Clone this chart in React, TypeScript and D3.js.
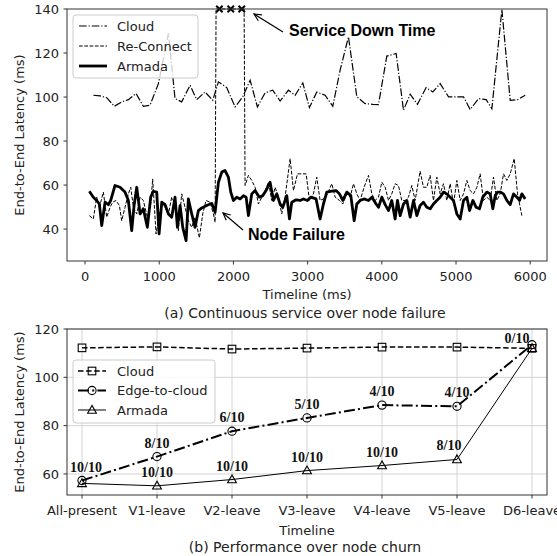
import React from 'react';
import * as d3 from 'd3';

// ---------- (a) data ----------
const cloudPts: [number, number][] = [
  [112,100.8],[202,100.5],[292,99.7],[395,95.8],[494,97.8],[584,98.8],[688,101.6],[786,95.8],[876,96.3],[989,106.1],
  [1124,128.9],[1213,99.3],[1303,97.8],[1416,105.4],[1505,98.8],[1618,102.3],[1721,98.5],[1798,106.9],[1910,104.3],[2022,95.5],
  [2126,100.1],[2225,107.6],[2323,95.5],[2427,101.9],[2530,103.1],[2629,98.2],[2741,103.1],[2831,100.8],[2935,106.4],[3024,95.2],
  [3123,102.3],[3236,100.8],[3339,95.8],[3438,112.2],[3550,127.4],[3663,100.1],[3775,97.0],[3878,96.7],[3955,96.6],[4067,118.6],
  [4193,119.8],[4292,94.0],[4382,101.3],[4480,96.7],[4597,104.3],[4687,102.3],[4786,106.1],[4899,100.1],[5002,100.1],[5101,100.1],
  [5191,94.3],[5303,99.3],[5406,98.8],[5483,94.7],[5618,139.8],[5730,98.5],[5829,98.8],[5932,100.8],
];

const reconnectPts: [number, number][] = [
  [58,46.1],[112,44.6],[157,54.5],[193,49.9],[247,56.8],[292,45.4],[337,49.9],[373,52.2],[418,53.0],[463,50.7],
  [494,43.8],[539,49.9],[584,56.0],[616,59.0],[652,49.9],[697,46.9],[742,54.5],[786,53.0],[840,45.4],[885,51.4],
  [912,62.8],[957,37.8],[1002,46.9],[1034,51.4],[1079,49.9],[1124,46.9],[1168,54.5],[1213,51.4],[1258,39.3],[1303,56.0],
  [1348,49.9],[1393,43.8],[1438,40.8],[1483,45.4],[1541,36.0],[1586,46.9],[1631,53.0],[1685,52.2],[1730,46.9],[1753,43.1],
  [1766,140],[2144,140],
  [2157,59.8],[2202,64.4],[2247,62.1],[2292,59.0],[2337,51.4],[2382,54.5],[2427,57.5],[2472,61.3],[2517,53.0],[2562,59.0],
  [2607,54.5],[2651,46.9],[2696,54.5],[2764,72.0],[2809,57.5],[2863,65.1],[2921,65.1],[2980,65.1],[3024,53.0],[3078,56.0],
  [3123,63.6],[3168,53.0],[3213,53.7],[3267,56.0],[3326,60.6],[3371,54.5],[3429,53.0],[3474,51.4],[3528,56.0],[3573,54.5],
  [3618,60.6],[3663,56.0],[3708,53.0],[3761,59.0],[3820,64.4],[3865,56.0],[3910,53.0],[3955,54.5],[4000,61.3],[4045,59.0],
  [4090,53.0],[4134,56.0],[4179,60.6],[4224,59.8],[4269,53.0],[4314,53.0],[4359,54.5],[4404,59.8],[4449,53.0],[4516,66.3],
  [4561,59.0],[4606,59.0],[4651,64.4],[4696,53.0],[4741,63.6],[4786,56.0],[4831,60.6],[4876,53.0],[4921,60.6],[4966,51.4],
  [5011,62.1],[5056,53.0],[5101,56.0],[5146,62.1],[5191,57.5],[5236,56.0],[5281,59.0],[5325,65.1],[5370,53.0],[5415,54.5],
  [5460,53.0],[5505,63.6],[5550,53.0],[5595,56.0],[5640,65.1],[5685,62.1],[5730,65.1],[5784,72.0],[5829,56.0],[5887,46.1],
];

const downTimeX = [1811, 1964, 2112];
const downTimeY = 140;

const armadaPts: [number, number][] = [
  [58,57.2],[112,54.5],[157,53.0],[193,51.4],[225,41.6],[270,52.2],[315,51.1],[346,53.0],[404,59.8],[472,59.0],
  [539,56.8],[584,53.0],[629,39.3],[661,50.7],[697,59.0],[742,46.9],[786,49.2],[840,40.8],[885,54.5],[921,57.2],
  [966,56.8],[998,37.8],[1034,52.2],[1079,51.1],[1124,46.9],[1168,45.4],[1213,54.5],[1245,40.8],[1281,50.7],[1317,40.8],
  [1362,34.7],[1393,53.7],[1438,46.9],[1483,40.8],[1528,48.4],[1573,49.6],[1640,50.7],[1708,51.7],[1753,47.6],[1798,61.3],
  [1843,65.9],[1887,66.6],[1932,63.6],[1964,56.8],[2000,53.0],[2045,54.5],[2090,53.7],[2135,55.2],[2171,54.5],[2202,46.1],
  [2247,56.0],[2292,57.5],[2350,54.5],[2395,55.2],[2440,57.5],[2494,61.3],[2539,53.0],[2584,56.0],[2629,51.4],[2665,49.9],
  [2719,55.2],[2755,44.6],[2786,52.2],[2845,53.3],[2899,53.0],[2944,53.7],[2997,53.0],[3042,54.5],[3114,53.7],[3168,44.6],
  [3213,51.4],[3258,56.8],[3326,57.2],[3384,57.5],[3429,56.0],[3474,53.0],[3528,56.8],[3582,55.2],[3627,43.8],[3663,51.4],
  [3708,53.0],[3761,53.7],[3820,53.0],[3865,54.5],[3923,51.4],[3955,49.9],[4000,54.5],[4045,51.1],[4090,48.4],[4134,53.0],
  [4179,44.6],[4211,53.0],[4247,46.1],[4292,51.4],[4337,53.0],[4382,45.4],[4427,53.0],[4472,46.1],[4516,50.7],[4561,52.2],
  [4606,49.9],[4651,49.2],[4696,51.4],[4741,53.0],[4786,54.5],[4831,56.8],[4876,56.0],[4921,54.5],[4966,53.0],[5011,46.9],
  [5056,44.6],[5101,53.0],[5146,54.5],[5182,48.4],[5227,53.0],[5271,49.9],[5316,49.2],[5361,54.5],[5415,56.8],[5460,56.0],
  [5496,49.2],[5528,55.2],[5559,56.8],[5595,56.8],[5640,56.0],[5685,53.0],[5730,51.1],[5775,56.0],[5820,54.5],[5856,53.0],
  [5887,56.0],[5932,53.7],
];

const xTicksA = [0, 1000, 2000, 3000, 4000, 5000, 6000];
const yTicksA = [40, 60, 80, 100, 120, 140];

// ---------- (b) data ----------
const categories = ['All-present', 'V1-leave', 'V2-leave', 'V3-leave', 'V4-leave', 'V5-leave', 'D6-leave'];
const cloudB = [112.2, 112.6, 111.7, 112.1, 112.5, 112.5, 112.0];
const edgeB = [57.3, 67.2, 77.7, 83.2, 88.5, 88.0, 113.5];
const armadaB = [56.1, 55.1, 57.7, 61.4, 63.5, 66.0, 112.0];
const edgeLabels = ['10/10', '8/10', '6/10', '5/10', '4/10', '4/10', '0/10'];
const armadaLabels = ['', '10/10', '10/10', '10/10', '10/10', '8/10', ''];
const yTicksB = [60, 80, 100, 120];

const SANS = 'DejaVu Sans, sans-serif';
const BOLD_SANS = 'Liberation Sans, Arial, sans-serif';
const SERIF = 'Liberation Serif, Times New Roman, serif';
const SPINE = '#333';
const TXT = '#222';

function Arrow({ x1, y1, x2, y2 }: { x1: number; y1: number; x2: number; y2: number }) {
  const a = Math.atan2(y2 - y1, x2 - x1);
  const L = 8, w = 0.45;
  const p1 = [x2 - L * Math.cos(a - w), y2 - L * Math.sin(a - w)];
  const p2 = [x2 - L * Math.cos(a + w), y2 - L * Math.sin(a + w)];
  return (
    <g stroke="#000" strokeWidth={1.2} fill="none">
      <line x1={x1} y1={y1} x2={x2} y2={y2} />
      <polyline points={`${p1[0]},${p1[1]} ${x2},${y2} ${p2[0]},${p2[1]}`} />
    </g>
  );
}

function Marker({ kind, x, y }: { kind: string; x: number; y: number }) {
  const s = 3.8;
  if (kind === 'square')
    return <rect x={x - s} y={y - s} width={2 * s} height={2 * s} fill="none" stroke="#000" strokeWidth={1.1} />;
  if (kind === 'circle') return <circle cx={x} cy={y} r={s + 0.3} fill="none" stroke="#000" strokeWidth={1.1} />;
  return (
    <polygon
      points={`${x},${y - s - 0.8} ${x - s - 0.6},${y + s - 0.6} ${x + s + 0.6},${y + s - 0.6}`}
      fill="none"
      stroke="#000"
      strokeWidth={1.1}
    />
  );
}

export default function App() {
  // ----- panel (a) -----
  const L = 67, R = 547;
  const xa = d3.scaleLinear().domain([-243, 6226]).range([L, R]);
  const ya = d3.scaleLinear().domain([25.5, 140]).range([261, 9]);
  const lineA = d3.line<[number, number]>().x((d) => xa(d[0])).y((d) => ya(d[1]));

  // ----- panel (b) -----
  const xb = d3.scaleLinear().domain([-0.2, 6.2]).range([L, R]);
  const yb = d3.scaleLinear().domain([51.3, 120]).range([495, 329]);
  const lineB = d3.line<number>().x((_, i) => xb(i)).y((d) => yb(d));

  const topA = ya.range()[1], botA = ya.range()[0];
  const topB = yb.range()[1], botB = yb.range()[0];

  return (
    <svg width={557} height={556} style={{ position: 'absolute', left: 0, top: 0, background: '#fff' }}>
      <defs>
        <clipPath id="clipA">
          <rect x={L} y={topA - 2} width={R - L} height={botA - topA + 2} />
        </clipPath>
        <clipPath id="clipB">
          <rect x={L} y={topB - 6} width={R - L + 6} height={botB - topB + 6} />
        </clipPath>
      </defs>

      {/* ================= (a) ================= */}
      <g clipPath="url(#clipA)">
        <path d={lineA(cloudPts) || ''} fill="none" stroke="#000" strokeWidth={1.2} strokeDasharray="7.7,1.9,1.2,1.9" />
        <path d={lineA(reconnectPts) || ''} fill="none" stroke="#000" strokeWidth={1} strokeDasharray="3.7,1.6" />
        <path d={lineA(armadaPts) || ''} fill="none" stroke="#000" strokeWidth={2.8} strokeLinejoin="round" />
      </g>
      {downTimeX.map((t, i) => {
        const cx = xa(t), cy = ya(downTimeY), s = 3.2;
        return (
          <g key={i} stroke="#000" strokeWidth={2}>
            <line x1={cx - s} y1={cy - s} x2={cx + s} y2={cy + s} />
            <line x1={cx - s} y1={cy + s} x2={cx + s} y2={cy - s} />
          </g>
        );
      })}
      <rect x={L} y={topA} width={R - L} height={botA - topA} fill="none" stroke={SPINE} strokeWidth={1} />
      {yTicksA.map((v) => (
        <g key={v}>
          <line x1={L - 3.5} x2={L} y1={ya(v)} y2={ya(v)} stroke={SPINE} />
          <text x={L - 8} y={ya(v) + 4.7} textAnchor="end" fontSize={13} fontFamily={SANS} fill={TXT}>
            {v}
          </text>
        </g>
      ))}
      {xTicksA.map((v) => (
        <g key={v}>
          <line x1={xa(v)} x2={xa(v)} y1={botA} y2={botA + 3.5} stroke={SPINE} />
          <text x={xa(v)} y={botA + 20} textAnchor="middle" fontSize={13} fontFamily={SANS} fill={TXT}>
            {v}
          </text>
        </g>
      ))}
      <text x={(L + R) / 2} y={299} textAnchor="middle" fontSize={13} fontFamily={SANS} fill={TXT}>
        Timeline (ms)
      </text>
      <text
        transform={`translate(24,${(topA + botA) / 2}) rotate(-90)`}
        textAnchor="middle"
        fontSize={13}
        fontFamily={SANS}
        fill={TXT}
      >
        End-to-End Latency (ms)
      </text>
      <text x={305} y={318} textAnchor="middle" fontSize={14} fontFamily={SANS} fill={TXT}>
        (a) Continuous service over node failure
      </text>

      {/* annotations (a) */}
      <Arrow x1={283} y1={32} x2={254} y2={14} />
      <text x={289} y={36} fontSize={16} fontWeight="bold" fontFamily={BOLD_SANS} fill="#000">
        Service Down Time
      </text>
      <Arrow x1={243} y1={230} x2={223} y2={213} />
      <text x={248} y={240} fontSize={16} fontWeight="bold" fontFamily={BOLD_SANS} fill="#000">
        Node Failure
      </text>

      {/* legend (a) */}
      <rect x={73} y={15} width={125} height={63} rx={3} fill="#fff" fillOpacity={0.8} stroke="#ccc" />
      {[
        { name: 'Cloud', dash: '7.7,1.9,1.2,1.9', w: 1.2 },
        { name: 'Re-Connect', dash: '3.7,1.6', w: 1 },
        { name: 'Armada', dash: undefined, w: 2.8 },
      ].map((e, i) => (
        <g key={e.name}>
          <line x1={79} x2={107} y1={26 + i * 20} y2={26 + i * 20} stroke="#000" strokeWidth={e.w} strokeDasharray={e.dash} />
          <text x={117} y={30.5 + i * 20} fontSize={13} fontFamily={SANS} fill={TXT}>
            {e.name}
          </text>
        </g>
      ))}

      {/* ================= (b) ================= */}
      {yTicksB.map((v) => (
        <line key={v} x1={L} x2={R} y1={yb(v)} y2={yb(v)} stroke="#cfcfcf" strokeWidth={0.9} />
      ))}
      {categories.map((c, i) => (
        <line key={c} x1={xb(i)} x2={xb(i)} y1={topB} y2={botB} stroke="#cfcfcf" strokeWidth={0.9} />
      ))}
      <g clipPath="url(#clipB)">
        <path d={lineB(cloudB) || ''} fill="none" stroke="#000" strokeWidth={1.5} strokeDasharray="5.5,2.6" />
        <path d={lineB(edgeB) || ''} fill="none" stroke="#000" strokeWidth={2} strokeDasharray="11,3.2,2,3.2" />
        <path d={lineB(armadaB) || ''} fill="none" stroke="#000" strokeWidth={1} />
        {cloudB.map((v, i) => (
          <Marker key={'c' + i} kind="square" x={xb(i)} y={yb(v)} />
        ))}
        {edgeB.map((v, i) => (
          <Marker key={'e' + i} kind="circle" x={xb(i)} y={yb(v)} />
        ))}
        {armadaB.map((v, i) => (
          <Marker key={'a' + i} kind="triangle" x={xb(i)} y={yb(v)} />
        ))}
      </g>
      {edgeLabels.map((t, i) => {
        const dx = i === 0 ? 4 : i === 6 ? -15 : 0;
        const dy = i === 6 ? -2 : -9;
        return (
          <text key={'el' + i} x={xb(i) + dx} y={yb(edgeB[i]) + dy} textAnchor="middle" fontSize={14} fontWeight="bold" fontFamily={SERIF} fill="#111">
            {t}
          </text>
        );
      })}
      {armadaLabels.map((t, i) =>
        t ? (
          <text key={'al' + i} x={xb(i) + (i === 5 ? -8 : 0)} y={yb(armadaB[i]) - 9} textAnchor="middle" fontSize={14} fontWeight="bold" fontFamily={SERIF} fill="#111">
            {t}
          </text>
        ) : null
      )}
      <rect x={L} y={topB} width={R - L} height={botB - topB} fill="none" stroke={SPINE} strokeWidth={1} />
      {yTicksB.map((v) => (
        <g key={v}>
          <line x1={L - 3.5} x2={L} y1={yb(v)} y2={yb(v)} stroke={SPINE} />
          <text x={L - 8} y={yb(v) + 4.7} textAnchor="end" fontSize={13} fontFamily={SANS} fill={TXT}>
            {v}
          </text>
        </g>
      ))}
      {categories.map((c, i) => (
        <g key={c}>
          <line x1={xb(i)} x2={xb(i)} y1={botB} y2={botB + 3.5} stroke={SPINE} />
          <text x={xb(i)} y={botB + 20} textAnchor="middle" fontSize={13} fontFamily={SANS} fill={TXT}>
            {c}
          </text>
        </g>
      ))}
      <text x={(L + R) / 2} y={535} textAnchor="middle" fontSize={13} fontFamily={SANS} fill={TXT}>
        Timeline
      </text>
      <text
        transform={`translate(24,${(topB + botB) / 2}) rotate(-90)`}
        textAnchor="middle"
        fontSize={13}
        fontFamily={SANS}
        fill={TXT}
      >
        End-to-End Latency (ms)
      </text>
      <text x={305} y={552} textAnchor="middle" fontSize={14} fontFamily={SANS} fill={TXT}>
        (b) Performance over node churn
      </text>

      {/* legend (b) */}
      <rect x={73} y={360} width={142} height={63} rx={3} fill="#fff" fillOpacity={0.8} stroke="#ccc" />
      {[
        { name: 'Cloud', dash: '5.5,2.6', w: 1.5, m: 'square' },
        { name: 'Edge-to-cloud', dash: '11,3.2,2,3.2', w: 2, m: 'circle' },
        { name: 'Armada', dash: undefined, w: 1, m: 'triangle' },
      ].map((e, i) => {
        const y = 371 + i * 19.5;
        return (
          <g key={e.name}>
            <line x1={78} x2={106} y1={y} y2={y} stroke="#000" strokeWidth={e.w} strokeDasharray={e.dash} />
            <Marker kind={e.m} x={92} y={y} />
            <text x={117} y={y + 4.5} fontSize={13} fontFamily={SANS} fill={TXT}>
              {e.name}
            </text>
          </g>
        );
      })}
    </svg>
  );
}
